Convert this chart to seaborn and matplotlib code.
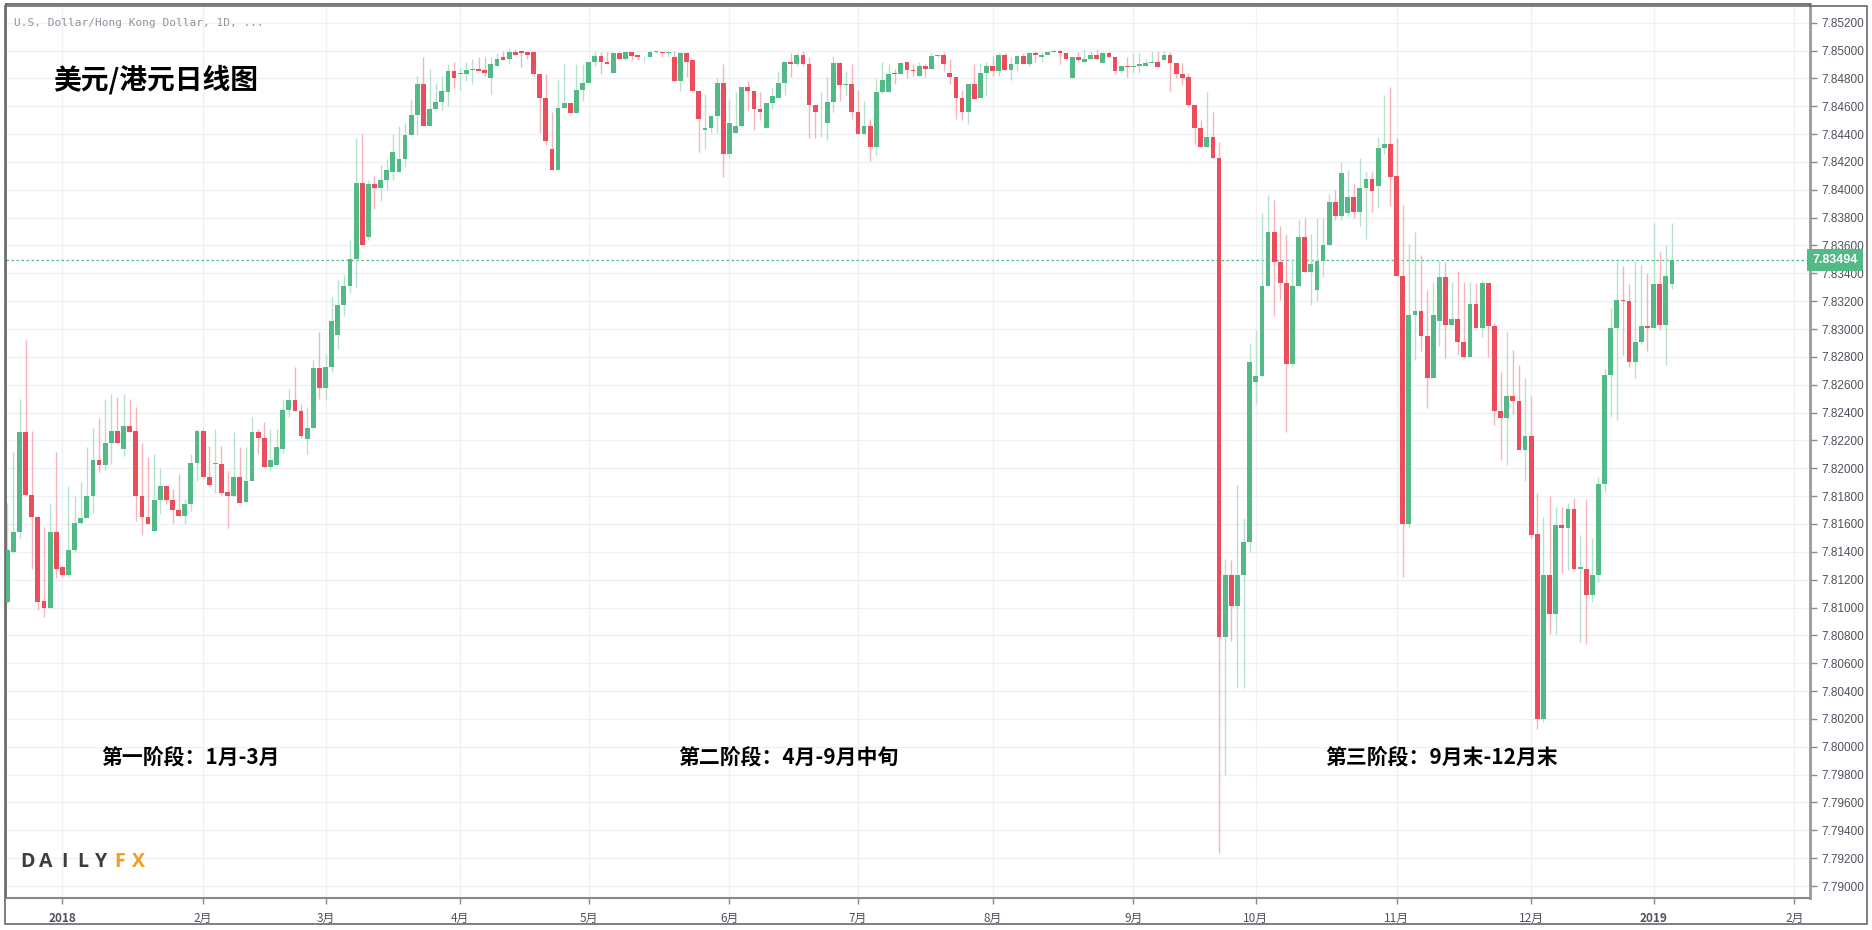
import numpy as np
import pandas as pd
import matplotlib
matplotlib.use('Agg')
import matplotlib.pyplot as plt
import matplotlib.transforms as mtransforms
from matplotlib.patches import Rectangle
import seaborn as sns

# USD/HKD daily candles, 2017-12-19 .. 2019-01-04
opens = [7.8104, 7.8140, 7.8154, 7.8226, 7.8181, 7.8165, 7.8105, 7.8100, 7.8154, 7.8129,
         7.8123, 7.8141, 7.8161, 7.8164, 7.8180, 7.8206, 7.8202, 7.8218, 7.8227, 7.8214,
         7.8230, 7.8227, 7.8180, 7.8165, 7.8155, 7.8177, 7.8187, 7.8177, 7.8170, 7.8166,
         7.8174, 7.8204, 7.8227, 7.8194, 7.8203, 7.8203, 7.8183, 7.8180, 7.8194, 7.8176,
         7.8191, 7.8226, 7.8222, 7.8201, 7.8202, 7.8214, 7.8242, 7.8249, 7.8241, 7.8221,
         7.8229, 7.8272, 7.8258, 7.8273, 7.8296, 7.8317, 7.8331, 7.8350, 7.8405, 7.8366,
         7.8404, 7.8401, 7.8407, 7.8413, 7.8413, 7.8422, 7.8439, 7.8454, 7.8476, 7.8446,
         7.8458, 7.8463, 7.8470, 7.8485, 7.8483, 7.8483, 7.8486, 7.8487, 7.8486, 7.8480,
         7.8489, 7.8495, 7.8494, 7.8499, 7.8500, 7.8499, 7.8499, 7.8483, 7.8466, 7.8429,
         7.8414, 7.8459, 7.8462, 7.8455, 7.8472, 7.8477, 7.8492, 7.8496, 7.8492, 7.8484,
         7.8498, 7.8494, 7.8499, 7.8497, 7.8495, 7.8495, 7.8499, 7.8499, 7.8498, 7.8495,
         7.8478, 7.8498, 7.8493, 7.8471, 7.8443, 7.8444, 7.8453, 7.8477, 7.8426, 7.8441,
         7.8446, 7.8474, 7.8471, 7.8458, 7.8444, 7.8462, 7.8466, 7.8477, 7.8492, 7.8490,
         7.8497, 7.8490, 7.8461, 7.8457, 7.8448, 7.8463, 7.8491, 7.8475, 7.8476, 7.8456,
         7.8440, 7.8446, 7.8431, 7.8470, 7.8470, 7.8484, 7.8483, 7.8492, 7.8486, 7.8482,
         7.8489, 7.8487, 7.8496, 7.8497, 7.8484, 7.8481, 7.8466, 7.8456, 7.8476, 7.8466,
         7.8484, 7.8489, 7.8485, 7.8497, 7.8486, 7.8490, 7.8496, 7.8490, 7.8498, 7.8495,
         7.8497, 7.8499, 7.8500, 7.8498, 7.8480, 7.8495, 7.8492, 7.8494, 7.8497, 7.8491,
         7.8498, 7.8495, 7.8485, 7.8489, 7.8488, 7.8489, 7.8489, 7.8491, 7.8492, 7.8493,
         7.8497, 7.8491, 7.8483, 7.8481, 7.8461, 7.8444, 7.8431, 7.8438, 7.8423, 7.8079,
         7.8123, 7.8101, 7.8123, 7.8147, 7.8262, 7.8266, 7.8331, 7.8370, 7.8348, 7.8333,
         7.8275, 7.8331, 7.8366, 7.8341, 7.8328, 7.8349, 7.8360, 7.8391, 7.8381, 7.8383,
         7.8395, 7.8384, 7.8401, 7.8408, 7.8403, 7.8430, 7.8433, 7.8410, 7.8338, 7.8160,
         7.8310, 7.8313, 7.8295, 7.8265, 7.8306, 7.8337, 7.8303, 7.8307, 7.8291, 7.8280,
         7.8318, 7.8301, 7.8333, 7.8302, 7.8241, 7.8236, 7.8252, 7.8248, 7.8213, 7.8223,
         7.8153, 7.8020, 7.8123, 7.8095, 7.8159, 7.8157, 7.8171, 7.8128, 7.8128, 7.8109,
         7.8123, 7.8189, 7.8267, 7.8301, 7.8321, 7.8320, 7.8276, 7.8291, 7.8302, 7.8301,
         7.8332, 7.8303, 7.8332]
highs = [7.8175, 7.8212, 7.8250, 7.8292, 7.8227, 7.8166, 7.8158, 7.8174, 7.8212, 7.8130,
         7.8187, 7.8180, 7.8190, 7.8215, 7.8229, 7.8236, 7.8250, 7.8253, 7.8251, 7.8253,
         7.8250, 7.8244, 7.8218, 7.8208, 7.8210, 7.8200, 7.8187, 7.8185, 7.8196, 7.8178,
         7.8210, 7.8228, 7.8228, 7.8216, 7.8228, 7.8216, 7.8198, 7.8226, 7.8215, 7.8215,
         7.8237, 7.8228, 7.8233, 7.8228, 7.8228, 7.8249, 7.8257, 7.8273, 7.8246, 7.8244,
         7.8278, 7.8298, 7.8282, 7.8323, 7.8335, 7.8339, 7.8364, 7.8437, 7.8440, 7.8407,
         7.8410, 7.8418, 7.8422, 7.8440, 7.8446, 7.8448, 7.8465, 7.8482, 7.8495, 7.8487,
         7.8477, 7.8482, 7.8490, 7.8492, 7.8488, 7.8492, 7.8494, 7.8495, 7.8495, 7.8495,
         7.8498, 7.8500, 7.8501, 7.8501, 7.8500, 7.8500, 7.8499, 7.8483, 7.8483, 7.8456,
         7.8479, 7.8490, 7.8462, 7.8490, 7.8490, 7.8492, 7.8499, 7.8499, 7.8499, 7.8498,
         7.8498, 7.8499, 7.8499, 7.8497, 7.8496, 7.8500, 7.8500, 7.8500, 7.8500, 7.8500,
         7.8499, 7.8499, 7.8493, 7.8471, 7.8469, 7.8453, 7.8480, 7.8490, 7.8465, 7.8470,
         7.8474, 7.8478, 7.8471, 7.8470, 7.8462, 7.8473, 7.8485, 7.8492, 7.8498, 7.8498,
         7.8500, 7.8495, 7.8461, 7.8470, 7.8481, 7.8496, 7.8492, 7.8485, 7.8490, 7.8472,
         7.8464, 7.8451, 7.8480, 7.8492, 7.8490, 7.8487, 7.8492, 7.8492, 7.8490, 7.8492,
         7.8490, 7.8498, 7.8497, 7.8499, 7.8494, 7.8481, 7.8472, 7.8476, 7.8490, 7.8490,
         7.8492, 7.8496, 7.8498, 7.8498, 7.8495, 7.8497, 7.8498, 7.8499, 7.8500, 7.8499,
         7.8500, 7.8501, 7.8501, 7.8498, 7.8495, 7.8499, 7.8501, 7.8500, 7.8501, 7.8499,
         7.8500, 7.8495, 7.8489, 7.8495, 7.8498, 7.8498, 7.8494, 7.8500, 7.8500, 7.8500,
         7.8499, 7.8491, 7.8491, 7.8484, 7.8461, 7.8450, 7.8470, 7.8456, 7.8434, 7.8135,
         7.8134, 7.8188, 7.8164, 7.8289, 7.8299, 7.8383, 7.8396, 7.8393, 7.8374, 7.8368,
         7.8350, 7.8378, 7.8380, 7.8368, 7.8380, 7.8380, 7.8397, 7.8400, 7.8420, 7.8414,
         7.8404, 7.8423, 7.8413, 7.8413, 7.8438, 7.8468, 7.8474, 7.8437, 7.8389, 7.8361,
         7.8370, 7.8353, 7.8328, 7.8334, 7.8349, 7.8348, 7.8334, 7.8342, 7.8334, 7.8334,
         7.8333, 7.8335, 7.8333, 7.8304, 7.8269, 7.8298, 7.8285, 7.8274, 7.8265, 7.8252,
         7.8182, 7.8165, 7.8180, 7.8172, 7.8172, 7.8175, 7.8179, 7.8152, 7.8178, 7.8150,
         7.8194, 7.8272, 7.8315, 7.8349, 7.8345, 7.8332, 7.8349, 7.8346, 7.8340, 7.8376,
         7.8355, 7.8360, 7.8376]
lows = [7.8103, 7.8139, 7.8150, 7.8180, 7.8128, 7.8098, 7.8093, 7.8100, 7.8121, 7.8122,
        7.8122, 7.8140, 7.8160, 7.8164, 7.8168, 7.8197, 7.8199, 7.8203, 7.8218, 7.8209,
        7.8226, 7.8162, 7.8152, 7.8160, 7.8155, 7.8167, 7.8174, 7.8161, 7.8166, 7.8160,
        7.8169, 7.8191, 7.8194, 7.8187, 7.8182, 7.8181, 7.8157, 7.8180, 7.8175, 7.8176,
        7.8191, 7.8210, 7.8201, 7.8198, 7.8202, 7.8211, 7.8237, 7.8241, 7.8222, 7.8210,
        7.8229, 7.8250, 7.8249, 7.8269, 7.8286, 7.8309, 7.8326, 7.8330, 7.8360, 7.8364,
        7.8386, 7.8392, 7.8400, 7.8407, 7.8413, 7.8416, 7.8439, 7.8439, 7.8446, 7.8446,
        7.8458, 7.8457, 7.8460, 7.8473, 7.8472, 7.8478, 7.8476, 7.8485, 7.8482, 7.8469,
        7.8489, 7.8493, 7.8490, 7.8497, 7.8488, 7.8494, 7.8482, 7.8441, 7.8432, 7.8414,
        7.8414, 7.8459, 7.8455, 7.8455, 7.8464, 7.8477, 7.8489, 7.8483, 7.8490, 7.8484,
        7.8494, 7.8493, 7.8493, 7.8493, 7.8492, 7.8495, 7.8498, 7.8495, 7.8495, 7.8478,
        7.8471, 7.8481, 7.8471, 7.8427, 7.8429, 7.8441, 7.8441, 7.8409, 7.8423, 7.8441,
        7.8445, 7.8457, 7.8443, 7.8450, 7.8444, 7.8458, 7.8466, 7.8468, 7.8481, 7.8489,
        7.8489, 7.8437, 7.8437, 7.8438, 7.8436, 7.8456, 7.8464, 7.8468, 7.8451, 7.8440,
        7.8440, 7.8421, 7.8425, 7.8469, 7.8470, 7.8476, 7.8483, 7.8480, 7.8482, 7.8482,
        7.8481, 7.8487, 7.8495, 7.8485, 7.8476, 7.8451, 7.8450, 7.8447, 7.8465, 7.8466,
        7.8467, 7.8482, 7.8482, 7.8486, 7.8479, 7.8485, 7.8490, 7.8489, 7.8492, 7.8492,
        7.8497, 7.8499, 7.8490, 7.8494, 7.8480, 7.8492, 7.8492, 7.8494, 7.8494, 7.8491,
        7.8495, 7.8483, 7.8484, 7.8481, 7.8484, 7.8484, 7.8489, 7.8491, 7.8488, 7.8493,
        7.8471, 7.8480, 7.8475, 7.8460, 7.8433, 7.8431, 7.8431, 7.8423, 7.7924, 7.7980,
        7.8076, 7.8043, 7.8042, 7.8140, 7.8246, 7.8266, 7.8331, 7.8309, 7.8321, 7.8226,
        7.8273, 7.8331, 7.8341, 7.8317, 7.8320, 7.8337, 7.8360, 7.8378, 7.8378, 7.8381,
        7.8380, 7.8374, 7.8365, 7.8384, 7.8387, 7.8426, 7.8388, 7.8338, 7.8122, 7.8158,
        7.8278, 7.8284, 7.8243, 7.8265, 7.8288, 7.8279, 7.8302, 7.8281, 7.8279, 7.8280,
        7.8301, 7.8294, 7.8280, 7.8231, 7.8206, 7.8202, 7.8239, 7.8213, 7.8191, 7.8150,
        7.8013, 7.8018, 7.8081, 7.8080, 7.8125, 7.8127, 7.8126, 7.8075, 7.8074, 7.8104,
        7.8118, 7.8183, 7.8237, 7.8235, 7.8281, 7.8273, 7.8265, 7.8289, 7.8284, 7.8301,
        7.8299, 7.8274, 7.8329]
closes = [7.8141, 7.8154, 7.8226, 7.8181, 7.8165, 7.8104, 7.8100, 7.8154, 7.8128, 7.8123,
          7.8141, 7.8161, 7.8164, 7.8180, 7.8206, 7.8202, 7.8218, 7.8227, 7.8218, 7.8230,
          7.8226, 7.8180, 7.8165, 7.8160, 7.8177, 7.8187, 7.8177, 7.8170, 7.8166, 7.8174,
          7.8204, 7.8227, 7.8194, 7.8188, 7.8204, 7.8182, 7.8180, 7.8194, 7.8175, 7.8191,
          7.8226, 7.8222, 7.8201, 7.8206, 7.8215, 7.8242, 7.8249, 7.8241, 7.8223, 7.8229,
          7.8272, 7.8258, 7.8273, 7.8306, 7.8317, 7.8331, 7.8350, 7.8405, 7.8360, 7.8404,
          7.8401, 7.8407, 7.8414, 7.8427, 7.8422, 7.8439, 7.8454, 7.8476, 7.8446, 7.8458,
          7.8463, 7.8471, 7.8485, 7.8480, 7.8484, 7.8486, 7.8487, 7.8485, 7.8484, 7.8490,
          7.8494, 7.8493, 7.8499, 7.8497, 7.8498, 7.8497, 7.8483, 7.8466, 7.8435, 7.8414,
          7.8459, 7.8462, 7.8455, 7.8472, 7.8477, 7.8492, 7.8496, 7.8492, 7.8490, 7.8498,
          7.8494, 7.8499, 7.8496, 7.8495, 7.8495, 7.8499, 7.8499, 7.8498, 7.8499, 7.8478,
          7.8498, 7.8492, 7.8471, 7.8451, 7.8444, 7.8453, 7.8477, 7.8426, 7.8448, 7.8446,
          7.8474, 7.8471, 7.8458, 7.8456, 7.8462, 7.8467, 7.8477, 7.8492, 7.8490, 7.8497,
          7.8490, 7.8461, 7.8456, 7.8457, 7.8463, 7.8491, 7.8475, 7.8476, 7.8456, 7.8440,
          7.8446, 7.8431, 7.8470, 7.8479, 7.8483, 7.8483, 7.8491, 7.8486, 7.8485, 7.8489,
          7.8487, 7.8496, 7.8497, 7.8490, 7.8481, 7.8466, 7.8456, 7.8476, 7.8465, 7.8484,
          7.8489, 7.8485, 7.8497, 7.8486, 7.8490, 7.8496, 7.8490, 7.8498, 7.8497, 7.8497,
          7.8499, 7.8500, 7.8498, 7.8494, 7.8495, 7.8493, 7.8494, 7.8497, 7.8494, 7.8498,
          7.8495, 7.8485, 7.8489, 7.8488, 7.8489, 7.8490, 7.8491, 7.8492, 7.8488, 7.8497,
          7.8491, 7.8483, 7.8480, 7.8461, 7.8444, 7.8431, 7.8438, 7.8423, 7.8079, 7.8123,
          7.8101, 7.8123, 7.8147, 7.8276, 7.8266, 7.8331, 7.8370, 7.8348, 7.8333, 7.8275,
          7.8331, 7.8366, 7.8341, 7.8347, 7.8349, 7.8360, 7.8391, 7.8381, 7.8412, 7.8395,
          7.8384, 7.8401, 7.8408, 7.8399, 7.8430, 7.8433, 7.8409, 7.8338, 7.8160, 7.8310,
          7.8313, 7.8295, 7.8265, 7.8310, 7.8337, 7.8303, 7.8307, 7.8291, 7.8280, 7.8318,
          7.8301, 7.8333, 7.8302, 7.8241, 7.8236, 7.8252, 7.8248, 7.8213, 7.8223, 7.8152,
          7.8020, 7.8123, 7.8095, 7.8159, 7.8157, 7.8171, 7.8128, 7.8129, 7.8109, 7.8123,
          7.8189, 7.8267, 7.8301, 7.8321, 7.8320, 7.8276, 7.8291, 7.8302, 7.8301, 7.8332,
          7.8303, 7.8338, 7.83494]

last_price = 7.83494
y_ticks = np.round(np.arange(7.790, 7.8521, 0.002), 3)

title = '美元/港元日线图'
symbol_line = 'U.S. Dollar/Hong Kong Dollar, 1D, ...'
phase_labels = ['第一阶段：1月-3月', '第二阶段：4月-9月中旬', '第三阶段：9月末-12月末']
logo_dark, logo_orange = 'DAILY', 'FX'

# trading-day calendar (no bar on Christmas 2018), extended to Feb 2019 for ticks
all_days = pd.bdate_range('2017-12-19', '2019-02-28')
all_days = all_days[all_days != pd.Timestamp('2018-12-25')]

df = pd.DataFrame({'open': opens, 'high': highs, 'low': lows, 'close': closes})
df['date'] = all_days[:len(df)]
df['up'] = df['close'] >= df['open']
df['high'] = df[['open', 'close', 'high']].max(axis=1)
df['low'] = df[['open', 'close', 'low']].min(axis=1)

periods = all_days.to_period('M')
tick_pos, tick_lab = [], []
for p in pd.period_range('2018-01', '2019-02', freq='M'):
    tick_pos.append(int(np.where(periods == p)[0][0]))
    tick_lab.append(str(p.year) if p.month == 1 else f'{p.month}月')

sns.set_style('white')
plt.rcParams['font.family'] = ['Noto Sans CJK SC', 'DejaVu Sans']

W, H = 1872, 930
UP, DOWN = '#53b987', '#eb4d5c'
UP_W, DOWN_W = '#b5e2cb', '#f6b3ba'
GRID = '#edf0f4'

fig = plt.figure(figsize=(W / 100, H / 100), dpi=100)
ax = fig.add_axes([6 / W, (H - 898) / H, (1810 - 6) / W, (898 - 4) / H])

x = np.arange(len(df))
ax.vlines(x, df['low'], df['high'], colors=np.where(df['up'], UP_W, DOWN_W), lw=1.0, zorder=2)
body = (df['close'] - df['open']).abs().clip(lower=0.00006)
ax.bar(x, body, bottom=df[['open', 'close']].min(axis=1), width=0.78,
       color=np.where(df['up'], UP, DOWN), linewidth=0, zorder=3)

ax.axhline(last_price, color=UP, lw=0.9, ls=(0, (2, 2)), zorder=1)

ax.set_xlim(-0.21, 294.56)
ax.set_ylim(7.78914, 7.85334)

ax.yaxis.tick_right()
ax.set_yticks(y_ticks)
ax.set_yticklabels([f'{v:.5f}' for v in y_ticks], family='Liberation Sans')
ax.set_xticks(tick_pos)
ax.set_xticklabels(tick_lab)
for lab in ax.get_xticklabels():
    if lab.get_text() in ('2018', '2019'):
        lab.set_fontweight('bold')
ax.grid(True, color=GRID, lw=1.0, zorder=0)
ax.set_axisbelow(True)
ax.tick_params(axis='y', which='both', right=True, left=False, length=5, width=1,
               color='#8a8a8a', labelsize=8.5, labelcolor='#4c525e', pad=3)
ax.tick_params(axis='x', bottom=True, length=4, width=1, color='#8a8a8a',
               labelsize=8.5, labelcolor='#4c525e', pad=6)

for side in ['left', 'top']:
    ax.spines[side].set_color('#5d5d5d')
    ax.spines[side].set_linewidth(1.2)
ax.spines['right'].set_color('#9a9a9a')
ax.spines['right'].set_linewidth(2)
ax.spines['bottom'].set_color('#8a8a8a')
ax.spines['bottom'].set_linewidth(1.5)

# last price tag on the price scale
trans = mtransforms.blended_transform_factory(ax.transAxes, ax.transData)
ax.text(1.0012, last_price, f'{last_price:.5f}', transform=trans, ha='left', va='center',
        color='white', fontsize=9, fontweight='bold', family='Liberation Sans', zorder=10,
        bbox=dict(boxstyle='square,pad=0.42', fc=UP, ec='none'), clip_on=False)


def px(xp, yp):
    return xp / W, 1 - yp / H


fig.text(*px(14, 23), symbol_line, family='DejaVu Sans Mono', fontsize=8,
         color='#8f939c', va='center', ha='left')
fig.text(*px(53, 80), title, fontsize=20, fontweight='bold', color='black',
         va='center', ha='left')
for (xl, lab) in zip([101, 678, 1325], phase_labels):
    fig.text(*px(xl, 757), lab, fontsize=15, fontweight='bold', color='black',
             va='center', ha='left')

# letter-spaced logo, bottom left
for k, ch in enumerate(logo_dark + logo_orange):
    col = '#3d3d3d' if k < len(logo_dark) else '#f39c1f'
    fig.text(*px(27 + k * 18.6, 862), ch, fontsize=14, fontweight='bold', color=col,
             family='Open Sans', va='center', ha='center')

fig.patches.append(Rectangle((5 / W, 6 / H), (1867 - 5) / W, (927 - 6 - 3) / H,
                             transform=fig.transFigure, fill=False, ec='#6a6a6a', lw=1.2))

fig.savefig('out.png', dpi=100)
